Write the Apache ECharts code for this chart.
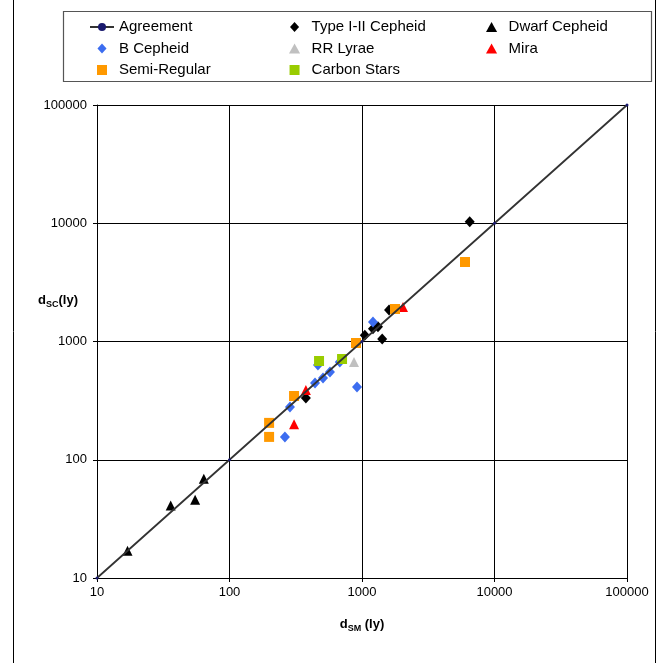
<!DOCTYPE html>
<html>
<head>
<meta charset="utf-8">
<script src="https://cdn.jsdelivr.net/npm/echarts@6/dist/echarts.min.js"></script>
<style>html,body{margin:0;padding:0;background:#fff;}#chart{width:662px;height:663px;}</style>
</head>
<body>
<div id="chart"></div>
<script>
// ---- Data ----
const xTickLabels = ['10', '100', '1000', '10000', '100000'];
const yTickLabels = ['10', '100', '1000', '10000', '100000'];

const agreementX = [10, 100, 1000, 10000, 100000];
const agreementY = [10, 100, 1000, 10000, 100000];

const typeCepheidX = [6500, 1600, 1050, 1210, 1320, 1420, 377];
const typeCepheidY = [10300, 1850, 1130, 1280, 1330, 1050, 333];

const dwarfCepheidX = [17, 36, 55, 64];
const dwarfCepheidY = [17, 41, 46, 69];

const bCepheidX = [1210, 465, 680, 573, 508, 442, 917, 286, 262];
const bCepheidY = [1460, 633, 670, 552, 491, 446, 412, 279, 156];

const rrLyraeX = [870];
const rrLyraeY = [670];

const miraX = [2040, 377, 307];
const miraY = [1960, 389, 200];

const semiRegularX = [5990, 1775, 901, 307, 199, 199];
const semiRegularY = [4700, 1884, 971, 346, 205, 156];

const carbonX = [474, 707];
const carbonY = [684, 711];

const seriesNames = ['Agreement', 'Type I-II Cepheid', 'Dwarf Cepheid', 'B Cepheid', 'RR Lyrae', 'Mira', 'Semi-Regular', 'Carbon Stars'];

// ---- Build ----
const zip = (xs, ys) => xs.map((x, i) => [x, ys[i]]);
const FONT = '"Liberation Sans", Arial, sans-serif';

const ICON_DIAMOND = 'path://M5,0L10,5.5L5,11L0,5.5Z';
const ICON_TRIANGLE = 'path://M5,0L10,9L0,9Z';
const ICON_SQUARE = 'path://M0,0L10,0L10,10L0,10Z';

function scatter(name, xs, ys, symbol, color, size) {
  return {
    name: name, type: 'scatter', data: zip(xs, ys),
    symbol: symbol, symbolSize: size,
    itemStyle: { color: color, opacity: 1 },
    emphasis: { disabled: true }
  };
}

const axisCommon = {
  type: 'log', logBase: 10, min: 10, max: 100000,
  axisLine: { show: true, lineStyle: { color: '#000', width: 1 } },
  axisTick: { show: true, length: 4, lineStyle: { color: '#000' } },
  minorTick: { show: false },
  splitLine: { show: true, lineStyle: { color: '#000', width: 1 } },
  minorSplitLine: { show: false }
};

const legendCommon = {
  orient: 'vertical', padding: 0, itemWidth: 24, itemHeight: 10, itemGap: 6.5,
  symbolKeepAspect: true,
  textStyle: { fontFamily: FONT, fontSize: 15, color: '#000', lineHeight: 15 },
  selectedMode: false, top: 19.5
};

const option = {
  animation: false,
  backgroundColor: '#fff',
  grid: { left: 97, right: 35, top: 105, bottom: 85, containLabel: false, outerBoundsMode: 'none' },
  xAxis: Object.assign({}, axisCommon, {
    axisLabel: { fontFamily: FONT, fontSize: 13, color: '#000', margin: 8,
      formatter: v => xTickLabels[Math.round(Math.log10(v)) - 1] }
  }),
  yAxis: Object.assign({}, axisCommon, {
    axisLabel: { fontFamily: FONT, fontSize: 13, color: '#000', margin: 10,
      formatter: v => yTickLabels[Math.round(Math.log10(v)) - 1] }
  }),
  legend: [
    Object.assign({}, legendCommon, { left: 89, data: [
      { name: seriesNames[0] },
      { name: seriesNames[3], icon: ICON_DIAMOND },
      { name: seriesNames[6], icon: ICON_SQUARE }
    ] }),
    Object.assign({}, legendCommon, { left: 289, data: [
      { name: seriesNames[1], icon: ICON_DIAMOND },
      { name: seriesNames[4], icon: ICON_TRIANGLE },
      { name: seriesNames[7], icon: ICON_SQUARE }
    ] }),
    Object.assign({}, legendCommon, { left: 486, data: [
      { name: seriesNames[2], icon: ICON_TRIANGLE },
      { name: seriesNames[5], icon: ICON_TRIANGLE }
    ] })
  ],
  graphic: [
    { type: 'rect', silent: true, z: -10,
      shape: { x: 13.5, y: -5, width: 642, height: 700 },
      style: { fill: 'none', stroke: '#000', lineWidth: 1 } },
    { type: 'rect', silent: true, z: -9,
      shape: { x: 63.5, y: 11.5, width: 588, height: 70 },
      style: { fill: '#fff', stroke: '#555', lineWidth: 1.2 } },
    { type: 'text', silent: true, x: 362, y: 624,
      style: { text: '{b|d}{s|SM}{b| (ly)}', align: 'center', verticalAlign: 'middle',
        rich: {
          b: { fontFamily: FONT, fontWeight: 'bold', fontSize: 13, lineHeight: 18, fill: '#000' },
          s: { fontFamily: FONT, fontWeight: 'bold', fontSize: 9, lineHeight: 9, verticalAlign: 'bottom', fill: '#000' }
        } } },
    { type: 'text', silent: true, x: 58, y: 300,
      style: { text: '{b|d}{s|SC}{b|(ly)}', align: 'center', verticalAlign: 'middle',
        rich: {
          b: { fontFamily: FONT, fontWeight: 'bold', fontSize: 13, lineHeight: 18, fill: '#000' },
          s: { fontFamily: FONT, fontWeight: 'bold', fontSize: 9, lineHeight: 9, verticalAlign: 'bottom', fill: '#000' }
        } } }
  ],
  series: [
    { name: seriesNames[0], type: 'line', data: zip(agreementX, agreementY),
      symbol: 'circle', symbolSize: 3, showSymbol: true,
      lineStyle: { color: '#333', width: 1.8 },
      itemStyle: { color: '#1a1a6e' },
      emphasis: { disabled: true } },
    scatter(seriesNames[1], typeCepheidX, typeCepheidY, 'diamond', '#000', [10, 11]),
    scatter(seriesNames[2], dwarfCepheidX, dwarfCepheidY, 'triangle', '#000', 10),
    scatter(seriesNames[3], bCepheidX, bCepheidY, 'diamond', '#3c6df0', [10, 11]),
    scatter(seriesNames[4], rrLyraeX, rrLyraeY, 'triangle', '#c0c0c0', 10),
    scatter(seriesNames[5], miraX, miraY, 'triangle', '#ff0000', 10),
    scatter(seriesNames[6], semiRegularX, semiRegularY, 'rect', '#ff9900', 10),
    scatter(seriesNames[7], carbonX, carbonY, 'rect', '#99cc00', 10)
  ]
};

const chart = echarts.init(document.getElementById('chart'), null, { renderer: 'canvas' });
chart.setOption(option);
</script>
</body>
</html>
